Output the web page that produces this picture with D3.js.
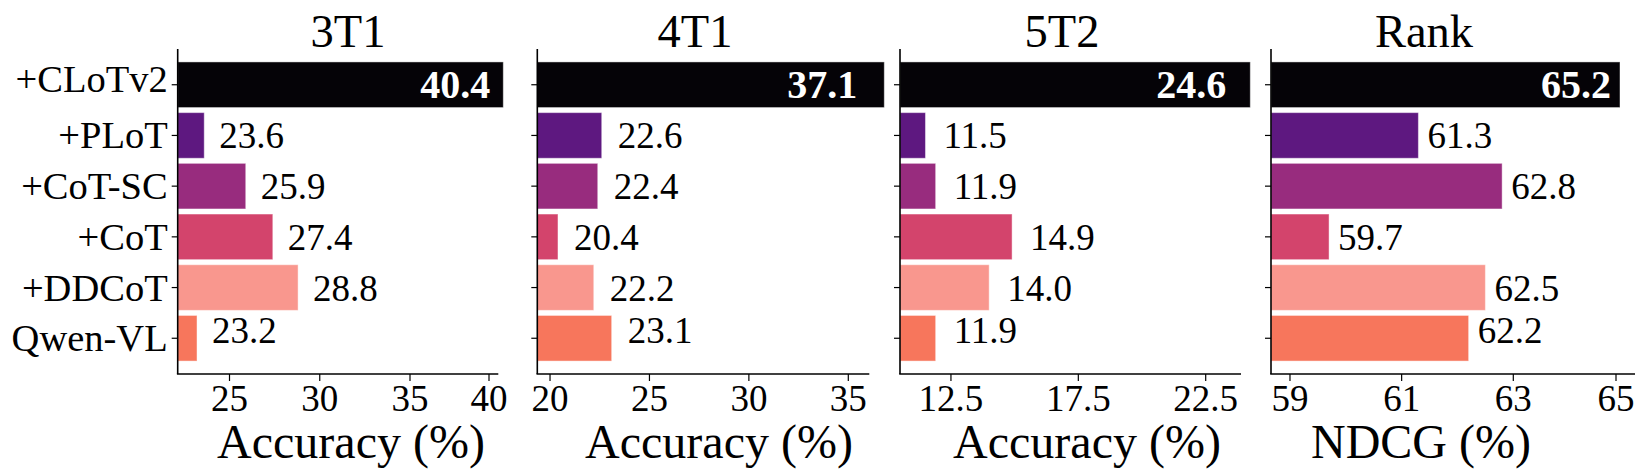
<!DOCTYPE html>
<html>
<head>
<meta charset="utf-8">
<script src="https://cdn.jsdelivr.net/npm/d3@7"></script>
<style>
  body { margin: 0; background: #fff; }
  svg text { font-family: "Liberation Serif", "Times New Roman", serif; }
</style>
</head>
<body>
<div id="chart"></div>
<script>
// data
var methods = ["+CLoTv2", "+PLoT", "+CoT-SC", "+CoT", "+DDCoT", "Qwen-VL"];
var barColors = ["#050307", "#5e1880", "#982c7e", "#d3446c", "#f9978e", "#f7765c"];

var titles = ["3T1", "4T1", "5T2", "Rank"];
var xLabels = ["Accuracy (%)", "Accuracy (%)", "Accuracy (%)", "NDCG (%)"];

var vals3T1 = [40.4, 23.6, 25.9, 27.4, 28.8, 23.2];
var vals4T1 = [37.1, 22.6, 22.4, 20.4, 22.2, 23.1];
var vals5T2 = [24.6, 11.5, 11.9, 14.9, 14.0, 11.9];
var valsRank = [65.2, 61.3, 62.8, 59.7, 62.5, 62.2];

var ticks3T1 = [25, 30, 35, 40];
var ticks4T1 = [20, 25, 30, 35];
var ticks5T2 = [12.5, 17.5, 22.5];
var ticksRank = [59, 61, 63, 65];

var allVals = [vals3T1, vals4T1, vals5T2, valsRank];
var allTicks = [ticks3T1, ticks4T1, ticks5T2, ticksRank];

// layout (pixel positions, scale is compressed near the top end)
var panels = [
  {dom: [22.13, 35, 40, 40.4], rng: [177.7, 410, 489, 503.3], right: 498.3, titleX: 348, labelX: 351, dx: 15, inGap: 13},
  {dom: [19.36, 35, 37.1],     rng: [537.3, 848.3, 884.3],    right: 869.3, titleX: 695, labelX: 719, dx: 16, inGap: 27},
  {dom: [10.5, 22.5, 24.6],    rng: [900, 1205.7, 1250.3],    right: 1241,  titleX: 1062, labelX: 1087, dx: 18, inGap: 24},
  {dom: [58.66, 63, 65, 65.2], rng: [1271, 1513.3, 1616, 1620], right: 1635, titleX: 1424, labelX: 1421, dx: 9, inGap: 9}
];
var plotTop = 49, plotBottom = 374;
var labelShift = [0, 0, 0, 0, 0, -8];

var svg = d3.select("#chart").append("svg")
  .attr("width", 1644)
  .attr("height", 474);

var y = d3.scaleBand()
  .domain(methods)
  .range([plotTop, plotBottom])
  .paddingInner(0.1)
  .paddingOuter(0.255);

function drawPanel(p, k) {
  var vals = allVals[k];
  var x = d3.scaleLinear().domain(p.dom).range(p.rng);
  var g = svg.append("g");
  var x0 = p.rng[0];

  // bars
  g.selectAll("rect.bar")
    .data(vals)
    .enter()
    .append("rect")
    .attr("class", "bar")
    .attr("x", x0)
    .attr("y", function(d, i) { return y(methods[i]); })
    .attr("width", function(d) { return x(d) - x0; })
    .attr("height", y.bandwidth())
    .attr("fill", function(d, i) { return barColors[i]; })
    .attr("stroke", "#ffffff")
    .attr("stroke-opacity", 0.45)
    .attr("stroke-width", 1);

  // value labels
  g.selectAll("text.val")
    .data(vals)
    .enter()
    .append("text")
    .attr("class", "val")
    .attr("x", function(d, i) { return i == 0 ? x(d) - p.inGap : x(d) + p.dx; })
    .attr("y", function(d, i) { return y(methods[i]) + y.bandwidth() / 2 + labelShift[i] + 13; })
    .attr("text-anchor", function(d, i) { return i == 0 ? "end" : "start"; })
    .attr("font-size", function(d, i) { return i == 0 ? 40 : 37; })
    .attr("font-weight", function(d, i) { return i == 0 ? "bold" : "normal"; })
    .attr("fill", function(d, i) { return i == 0 ? "#ffffff" : "#000000"; })
    .text(function(d) { return d.toFixed(1); });

  // spines
  g.append("line")
    .attr("x1", x0).attr("x2", x0)
    .attr("y1", plotTop).attr("y2", plotBottom)
    .attr("stroke", "#000").attr("stroke-width", 1.6);
  g.append("line")
    .attr("x1", x0 - 0.8).attr("x2", p.right)
    .attr("y1", plotBottom).attr("y2", plotBottom)
    .attr("stroke", "#000").attr("stroke-width", 1.6);

  // x ticks
  var xt = g.selectAll("g.xt")
    .data(allTicks[k])
    .enter()
    .append("g")
    .attr("transform", function(d) { return "translate(" + x(d) + "," + plotBottom + ")"; });
  xt.append("line").attr("y1", 0).attr("y2", 7).attr("stroke", "#000").attr("stroke-width", 1.2);
  xt.append("text")
    .attr("y", 37)
    .attr("text-anchor", "middle")
    .attr("font-size", 37)
    .text(function(d) { return d; });

  // y ticks
  g.selectAll("line.yt")
    .data(methods)
    .enter()
    .append("line")
    .attr("x1", x0 - 6).attr("x2", x0)
    .attr("y1", function(d) { return y(d) + y.bandwidth() / 2; })
    .attr("y2", function(d) { return y(d) + y.bandwidth() / 2; })
    .attr("stroke", "#000").attr("stroke-width", 1.2);

  if (k == 0) {
    g.selectAll("text.yl")
      .data(methods)
      .enter()
      .append("text")
      .attr("class", "yl")
      .attr("x", x0 - 10)
      .attr("y", function(d, i) { return y(d) + y.bandwidth() / 2 + 13 + (i == 0 ? -6 : 0); })
      .attr("text-anchor", "end")
      .attr("font-size", 38.5)
      .text(function(d) { return d; });
  }

  // title and axis label
  g.append("text")
    .attr("x", p.titleX).attr("y", 47)
    .attr("text-anchor", "middle")
    .attr("font-size", 46.5)
    .text(titles[k]);
  g.append("text")
    .attr("x", p.labelX).attr("y", 458)
    .attr("text-anchor", "middle")
    .attr("font-size", 48)
    .text(xLabels[k]);
}

panels.forEach(drawPanel);
</script>
</body>
</html>
